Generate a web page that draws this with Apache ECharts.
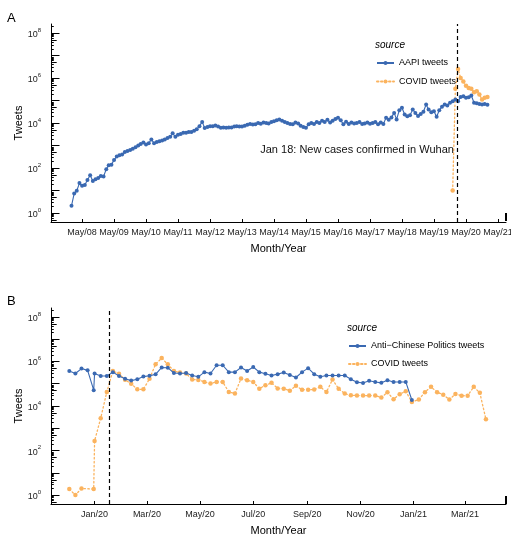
<!DOCTYPE html>
<html><head><meta charset="utf-8">
<script src="https://cdn.jsdelivr.net/npm/echarts@6/dist/echarts.min.js"></script>
<style>html,body{margin:0;padding:0;background:#fff}#c{width:511px;height:535px}</style>
</head><body><div id="c"></div>
<script>
// ---------- DATA (values are log10 of tweet counts) ----------
// Panel A: monthly, starting Jan 2008
const aapiStart = [2008, 1];
const aapiLog = [
  0.32,0.87,0.99,1.33,1.21,1.24,1.47,1.68,1.42,1.5,1.56,1.65,
  1.62,1.95,2.12,2.15,2.36,2.51,2.57,2.6,2.71,2.76,2.8,2.86,
  2.92,3.0,3.07,3.13,3.04,3.1,3.27,3.1,3.16,3.19,3.22,3.27,
  3.33,3.39,3.54,3.39,3.48,3.51,3.57,3.57,3.6,3.6,3.66,3.72,
  3.86,4.05,3.78,3.82,3.86,3.86,3.89,3.84,3.79,3.8,3.79,3.8,
  3.8,3.84,3.86,3.84,3.85,3.88,3.92,3.96,3.93,3.95,4.0,3.97,
  4.02,4.0,3.98,4.05,4.08,4.12,4.16,4.1,4.05,4.0,3.96,3.94,
  4.02,3.98,3.88,3.82,3.79,3.95,4.0,3.96,4.05,4.0,4.1,4.05,
  4.15,4.02,4.1,4.18,4.23,4.12,3.94,4.06,3.96,4.02,3.98,4.0,
  4.04,3.96,3.98,4.02,3.97,4.0,4.05,3.94,4.02,3.96,4.23,4.15,
  4.25,4.45,4.16,4.57,4.68,4.38,4.3,4.35,4.6,4.45,4.31,4.4,
  4.5,4.82,4.6,4.48,4.52,4.28,4.57,4.72,4.82,4.78,4.9,4.97,
  5.04,4.97,5.16,5.19,5.12,5.15,5.22,4.9,4.88,4.85,4.82,4.84,
  4.81
];
const covidAStart = [2019, 12];
const covidALog = [1.0,5.52,6.4,6.0,5.85,5.66,5.56,5.52,5.37,5.41,5.27,5.04,5.12,5.16];

// Panel B: weekly
const antiDates2019 = ['2019-12-03','2019-12-10','2019-12-17','2019-12-24','2019-12-31'];
const antiLog2019 = [5.57,5.46,5.68,5.6,4.71];
const antiLog2020 = [5.46,5.35,5.35,5.52,5.35,5.22,5.14,5.2,5.32,5.36,5.42,5.73,5.72,5.48,5.46,5.48,
  5.37,5.31,5.52,5.46,5.83,5.83,5.52,5.52,5.73,5.57,5.75,5.52,5.45,5.37,5.43,5.5,5.39,5.28,5.52,5.7,
  5.43,5.31,5.37,5.37,5.37,5.37,5.2,5.07,5.03,5.13,5.08,5.04,5.16,5.08,5.08,5.08,4.27];
const covidBDates2019 = ['2019-12-03','2019-12-10','2019-12-17','2019-12-31'];
const covidBLog2019 = [0.27,0.0,0.3,0.27];
const covidBLog2020 = [2.43,3.45,4.63,5.57,5.45,5.18,5.0,4.75,4.75,5.22,5.88,6.15,5.87,5.57,5.5,5.46,
  5.19,5.17,5.08,5.01,5.08,5.08,4.63,4.56,5.23,5.16,5.08,4.78,4.93,5.04,4.79,4.78,4.68,4.91,4.73,4.73,
  4.74,4.86,4.63,5.19,4.77,4.56,4.48,4.47,4.47,4.47,4.47,4.38,4.62,4.3,4.53,4.66,4.18];
const covidBLog2021 = [4.29,4.62,4.86,4.62,4.51,4.29,4.54,4.46,4.46,4.86,4.59,3.4];

const eventDate = '2020-01-18';
const eventText = 'Jan 18: New cases confirmed in Wuhan';
const eventTextLevel = 2.8;
const yLabelExps = [0,2,4,6,8];
const yTickExps = [0,1,2,3,4,5,6,7,8];
const monthNames = ['Jan','Feb','Mar','Apr','May','Jun','Jul','Aug','Sep','Oct','Nov','Dec'];

// ---------- helpers ----------
function ts(y,m,d){return new Date(y,m-1,d).getTime();}
function parseDate(s){const p=s.split('-').map(Number);return ts(p[0],p[1],p[2]);}
function monthly(y,m,n){const o=[];for(let i=0;i<n;i++)o.push(new Date(y,m-1+i,1).getTime());return o;}
function weekly(y,m,d,n){const o=[];for(let i=0;i<n;i++)o.push(new Date(y,m-1,d+7*i).getTime());return o;}
function zip(a,b){return a.map((x,i)=>[x,b[i]]);}

const aapiDates = monthly(aapiStart[0], aapiStart[1], aapiLog.length);
const covidADates = monthly(covidAStart[0], covidAStart[1], covidALog.length);
const antiDates = antiDates2019.map(parseDate).concat(weekly(2020,1,1,52), [parseDate('2020-12-30')]);
const antiLog = antiLog2019.concat(antiLog2020);
const covidBDates = covidBDates2019.map(parseDate).concat(weekly(2020,1,1,52), [parseDate('2020-12-30')], weekly(2021,1,7,covidBLog2021.length));
const covidBLog = covidBLog2019.concat(covidBLog2020, covidBLog2021);
const eventTs = parseDate(eventDate);

const FONT = '"Liberation Sans", Arial, Helvetica, sans-serif';
const BLUE = '#3A69B2', ORANGE = '#FBB35E';

const xMinA = ts(2007,5,12), xMaxA = ts(2021,8,1);
const xMinB = ts(2019,11,12), xMaxB = ts(2021,4,17);
const mayTicks = []; for (let y=2008;y<=2021;y++) mayTicks.push(ts(y,5,1));
const bTicks = [ts(2020,1,1),ts(2020,3,1),ts(2020,5,1),ts(2020,7,1),ts(2020,9,1),ts(2020,11,1),ts(2021,1,1),ts(2021,3,1)];
function dateLabel(v){const d=new Date(v);return monthNames[d.getMonth()]+'/'+String(d.getFullYear()).slice(2);}

function logTicks(xmin){
  const rows=[];
  for(let d=-1; d<=8; d++) for(let m=2;m<=9;m++){
    const v=d+Math.log10(m);
    if(v>=-0.4 && v<=8.4) rows.push([xmin, v, m===5?5.7:2.8]);
  }
  return rows;
}
function tickSeries(xi, xmin){
  return {type:'custom', xAxisIndex:xi, yAxisIndex:xi, silent:true, z:5, clip:false,
    data: logTicks(xmin),
    renderItem:(params, api)=>{
      const p = api.coord([api.value(0), api.value(1)]);
      const y = Math.round(p[1])+0.5;
      return {type:'line', shape:{x1:p[0], y1:y, x2:p[0]+api.value(2), y2:y}, style:{stroke:'#000', lineWidth:1}};
    }};
}

function xAxisCfg(gi, min, max, ticks){
  return {type:'value', gridIndex:gi, min:min, max:max, scale:true,
    name:'Month/Year', nameLocation:'middle', nameGap:21,
    nameTextStyle:{fontSize:11, color:'#000', fontFamily:FONT},
    axisLine:{show:true, onZero:false, lineStyle:{color:'#000', width:1}},
    axisTick:{show:true, inside:true, length:3, customValues:ticks, lineStyle:{color:'#000'}},
    axisLabel:{customValues:ticks, formatter:dateLabel, fontSize:9, color:'#222', margin:6, fontFamily:FONT, hideOverlap:false},
    splitLine:{show:false}};
}
function yAxisCfg(gi){
  return {type:'value', gridIndex:gi, min:-0.4, max:8.4,
    name:'Tweets', nameLocation:'middle', nameGap:27, nameMoveOverlap:false,
    nameTextStyle:{fontSize:11, color:'#000', fontFamily:FONT},
    axisLine:{show:true, onZero:false, lineStyle:{color:'#000', width:1}},
    axisTick:{show:true, inside:true, length:8.5, customValues:yTickExps, lineStyle:{color:'#000'}},
    axisLabel:{customValues:yLabelExps, margin:10, formatter:v=>'{b|10}{s|'+v+'}',
      rich:{b:{fontSize:9, color:'#222', fontFamily:FONT, verticalAlign:'bottom', lineHeight:12},
            s:{fontSize:6, color:'#222', fontFamily:FONT, verticalAlign:'top', lineHeight:7}}},
    splitLine:{show:false}};
}

const chart = echarts.init(document.getElementById('c'), null, {renderer:'canvas'});
chart.setOption({
  animation:false,
  backgroundColor:'#fff',
  textStyle:{fontFamily:FONT},
  title:[
    {text:'A', left:7, top:12, padding:0, textStyle:{fontSize:13, fontWeight:'normal', color:'#000', fontFamily:FONT}},
    {text:'B', left:7, top:295, padding:0, textStyle:{fontSize:13, fontWeight:'normal', color:'#000', fontFamily:FONT}},
    {text:'source', left:375, top:40, padding:0, textStyle:{fontSize:10, fontStyle:'italic', fontWeight:'normal', color:'#000', fontFamily:FONT}},
    {text:'source', left:347, top:323, padding:0, textStyle:{fontSize:10, fontStyle:'italic', fontWeight:'normal', color:'#000', fontFamily:FONT}}
  ],
  legend:[
    {data:['AAPI tweets','COVID tweets'], orient:'vertical', left:376, top:58.5, padding:0,
     itemWidth:17, itemHeight:5, itemGap:9.5, selectedMode:false,
     textStyle:{fontSize:9, color:'#000', fontFamily:FONT}},
    {data:['Anti\u2212Chinese Politics tweets','COVID tweets'], orient:'vertical', left:348, top:341.5, padding:0,
     itemWidth:17, itemHeight:5, itemGap:9, selectedMode:false,
     textStyle:{fontSize:9, color:'#000', fontFamily:FONT}}
  ],
  grid:[
    {left:51, right:5, top:24, height:198, containLabel:false, outerBoundsMode:'none'},
    {left:51, right:5, top:308, height:196, containLabel:false, outerBoundsMode:'none'}
  ],
  xAxis:[xAxisCfg(0, xMinA, xMaxA, mayTicks), xAxisCfg(1, xMinB, xMaxB, bTicks)],
  yAxis:[yAxisCfg(0), yAxisCfg(1)],
  graphic:[
    {type:'rect', shape:{x:505, y:213, width:2, height:8}, style:{fill:'#000'}},
    {type:'rect', shape:{x:505, y:496, width:2, height:8}, style:{fill:'#000'}}
  ],
  series:[
    {name:'AAPI tweets', type:'line', xAxisIndex:0, yAxisIndex:0, data:zip(aapiDates, aapiLog),
     symbol:'circle', symbolSize:4, showAllSymbol:true, color:BLUE,
     lineStyle:{color:BLUE, width:1.1}, itemStyle:{color:BLUE}, z:3,
     markLine:{silent:true, symbol:'none', label:{show:false},
       lineStyle:{color:'#000', type:[4,3], width:1.2}, data:[{xAxis:eventTs}]}},
    {name:'COVID tweets', type:'line', xAxisIndex:0, yAxisIndex:0, data:zip(covidADates, covidALog),
     symbol:'circle', symbolSize:4.5, showAllSymbol:true, color:ORANGE,
     lineStyle:{color:ORANGE, width:1.3, type:[1.5,2.5], cap:'round'}, itemStyle:{color:ORANGE}, z:2},
    {type:'custom', xAxisIndex:0, yAxisIndex:0, silent:true, z:6, clip:false,
     data:[[eventTs, eventTextLevel]],
     renderItem:(params, api)=>{
       const p = api.coord([api.value(0), api.value(1)]);
       return {type:'text', x:p[0]-3, y:p[1], style:{text:eventText, fill:'#111', fontSize:11, fontFamily:FONT, align:'right', verticalAlign:'middle'}};
     }},
    tickSeries(0, xMinA),
    {name:'Anti\u2212Chinese Politics tweets', type:'line', xAxisIndex:1, yAxisIndex:1, data:zip(antiDates, antiLog),
     symbol:'circle', symbolSize:4, showAllSymbol:true, color:BLUE,
     lineStyle:{color:BLUE, width:1.1}, itemStyle:{color:BLUE}, z:3,
     markLine:{silent:true, symbol:'none', label:{show:false},
       lineStyle:{color:'#000', type:[4,3], width:1.2}, data:[{xAxis:eventTs}]}},
    {name:'COVID tweets', type:'line', xAxisIndex:1, yAxisIndex:1, data:zip(covidBDates, covidBLog),
     symbol:'circle', symbolSize:4.5, showAllSymbol:true, color:ORANGE,
     lineStyle:{color:ORANGE, width:1.3, type:[1.5,2.5], cap:'round'}, itemStyle:{color:ORANGE}, z:2},
    tickSeries(1, xMinB)
  ]
});
</script></body></html>
